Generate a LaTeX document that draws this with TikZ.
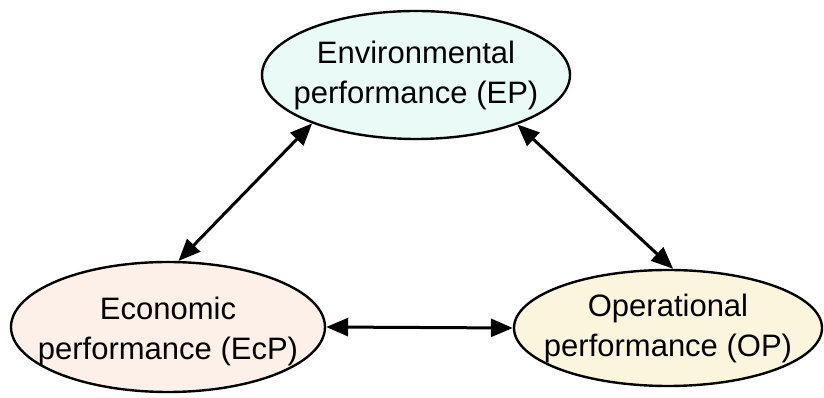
\documentclass[tikz,border=0pt]{standalone}
\usepackage{fontspec}
\setmainfont{Liberation Sans}
\usetikzlibrary{shapes.geometric,arrows.meta}
\definecolor{epfill}{RGB}{234,251,247}
\definecolor{ecpfill}{RGB}{252,240,233}
\definecolor{opfill}{RGB}{252,245,222}
\tikzset{
  perf/.style={ellipse, draw=black, line width=2.4pt, inner sep=0pt},
  perftext/.style={align=center, inner sep=0pt, font=\fontsize{31}{40}\selectfont},
  link/.style={line width=3pt, {Triangle[length=22pt,width=18pt]}-{Triangle[length=22pt,width=18pt]}}
}
\begin{document}
\begin{tikzpicture}[x=1pt,y=1pt]
\useasboundingbox (0,0) rectangle (824,398);
\fill[white] (0,0) rectangle (824,398);
\node[perf, fill=epfill, minimum width=308pt, minimum height=128pt] (ep) at (416,323) {};
\node[perf, fill=ecpfill, minimum width=314pt, minimum height=130pt] (ecp) at (168,71) {};
\node[perf, fill=opfill, minimum width=308pt, minimum height=116pt] (op) at (668,70) {};
\node[perftext] (eptext) at (ep.center) {Environmental\\performance (EP)};
\node[perftext] (ecptext) at ([yshift=-4pt]ecp.center) {Economic\\performance (EcP)};
\node[perftext] (optext) at (op.center) {Operational\\performance (OP)};
\draw[link] (ep.205) -- (ecp.81);
\draw[link] (ep.334) -- (op.85);
\draw[link] (ecp.0) -- (op.180);
\end{tikzpicture}
\end{document}
